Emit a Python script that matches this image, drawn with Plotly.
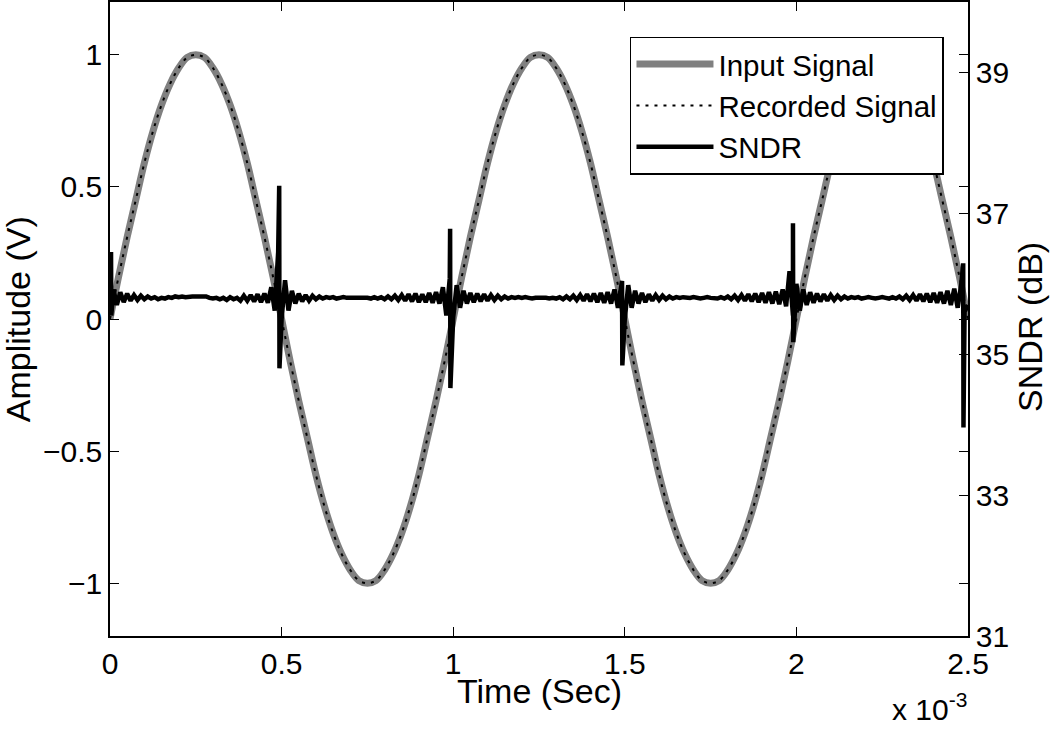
import plotly.graph_objects as go

# ---------------- data ----------------
# Input / recorded signal amplitude (V), sampled every 0.025 ms from 0 to 2.5 ms
sig_time_ms = [round(i * 0.025, 3) for i in range(101)]
input_signal = [
    0.00, 0.16, 0.31, 0.45, 0.59, 0.71, 0.81, 0.89, 0.95, 0.99,
    1.00, 0.99, 0.95, 0.89, 0.81, 0.71, 0.59, 0.45, 0.31, 0.16,
    0.00, -0.16, -0.31, -0.45, -0.59, -0.71, -0.81, -0.89, -0.95, -0.99,
    -1.00, -0.99, -0.95, -0.89, -0.81, -0.71, -0.59, -0.45, -0.31, -0.16,
    0.00, 0.16, 0.31, 0.45, 0.59, 0.71, 0.81, 0.89, 0.95, 0.99,
    1.00, 0.99, 0.95, 0.89, 0.81, 0.71, 0.59, 0.45, 0.31, 0.16,
    0.00, -0.16, -0.31, -0.45, -0.59, -0.71, -0.81, -0.89, -0.95, -0.99,
    -1.00, -0.99, -0.95, -0.89, -0.81, -0.71, -0.59, -0.45, -0.31, -0.16,
    0.00, 0.16, 0.31, 0.45, 0.59, 0.71, 0.81, 0.89, 0.95, 0.99,
    1.00, 0.99, 0.95, 0.89, 0.81, 0.71, 0.59, 0.45, 0.31, 0.16,
    0.00,
]
recorded_signal = list(input_signal)

# SNDR (dB) baseline, sampled every 0.01 ms from 0 to 2.5 ms
sndr_time_ms = [round(i * 0.01, 3) for i in range(251)]
sndr_db = [
    # 0.00 - 0.49
    35.70, 35.92, 35.70, 35.88, 35.74, 35.86, 35.76, 35.84, 35.77, 35.83,
    35.78, 35.82, 35.79, 35.81, 35.78, 35.80, 35.79, 35.81, 35.80, 35.82,
    35.81, 35.82, 35.81, 35.82, 35.82, 35.82, 35.82, 35.81, 35.82, 35.80,
    35.79, 35.80, 35.78, 35.80, 35.77, 35.81, 35.78, 35.80, 35.76, 35.83,
    35.76, 35.84, 35.75, 35.85, 35.74, 35.86, 35.73, 35.95, 35.62, 36.45,
    # 0.50 - 0.99
    35.50, 36.05, 35.62, 35.90, 35.72, 35.86, 35.75, 35.84, 35.76, 35.83,
    35.78, 35.82, 35.79, 35.81, 35.80, 35.81, 35.79, 35.80, 35.81, 35.80,
    35.80, 35.81, 35.80, 35.80, 35.81, 35.80, 35.79, 35.81, 35.79, 35.81,
    35.78, 35.82, 35.78, 35.83, 35.77, 35.84, 35.76, 35.85, 35.75, 35.86,
    35.74, 35.85, 35.74, 35.87, 35.73, 35.88, 35.72, 35.95, 35.55, 36.08,
    # 1.00 - 1.49
    35.52, 35.98, 35.66, 35.90, 35.72, 35.87, 35.74, 35.86, 35.75, 35.85,
    35.76, 35.84, 35.77, 35.83, 35.78, 35.82, 35.79, 35.81, 35.80, 35.81,
    35.80, 35.81, 35.80, 35.79, 35.80, 35.80, 35.81, 35.80, 35.79, 35.80,
    35.79, 35.81, 35.78, 35.82, 35.78, 35.83, 35.77, 35.84, 35.76, 35.85,
    35.75, 35.86, 35.74, 35.87, 35.73, 35.88, 35.72, 35.92, 35.66, 36.02,
    # 1.50 - 1.99
    35.50, 35.98, 35.66, 35.90, 35.72, 35.87, 35.74, 35.85, 35.76, 35.84,
    35.77, 35.83, 35.78, 35.82, 35.79, 35.81, 35.80, 35.81, 35.80, 35.80,
    35.81, 35.80, 35.79, 35.80, 35.81, 35.80, 35.80, 35.79, 35.81, 35.79,
    35.82, 35.78, 35.83, 35.77, 35.84, 35.76, 35.85, 35.75, 35.86, 35.74,
    35.87, 35.73, 35.88, 35.72, 35.89, 35.71, 35.92, 35.68, 36.18, 35.55,
    # 2.00 - 2.49
    36.00, 35.62, 35.92, 35.70, 35.88, 35.73, 35.86, 35.75, 35.85, 35.76,
    35.84, 35.77, 35.83, 35.78, 35.82, 35.79, 35.81, 35.80, 35.81, 35.79,
    35.80, 35.81, 35.80, 35.79, 35.80, 35.81, 35.80, 35.79, 35.81, 35.79,
    35.82, 35.78, 35.83, 35.77, 35.84, 35.76, 35.85, 35.75, 35.86, 35.74,
    35.87, 35.73, 35.88, 35.72, 35.90, 35.70, 35.93, 35.66, 35.98, 35.60,
    # 2.50
    35.70,
]

# Narrow SNDR spikes near the zero crossings (time in ms, peak and trough in dB)
spike_time_ms = [0.003, 0.493, 0.991, 1.492, 1.990, 2.486]
spike_high_db = [36.45, 37.39, 36.78, 36.04, 36.86, 36.29]
spike_low_db = [35.55, 34.80, 34.52, 34.84, 35.17, 33.96]

x_tick_ms = [0, 0.5, 1, 1.5, 2, 2.5]
x_tick_text = ["0", "0.5", "1", "1.5", "2", "2.5"]
amp_ticks = [-1, -0.5, 0, 0.5, 1]
sndr_ticks = [31, 33, 35, 37, 39]

# ---------------- build SNDR series (baseline + spikes) ----------------
pts = list(zip(sndr_time_ms, sndr_db))
for t, hi, lo in zip(spike_time_ms, spike_high_db, spike_low_db):
    pts.append((t, hi))
    pts.append((t + 0.0008, lo))
pts.sort(key=lambda p: p[0])
sndr_x = [p[0] * 1e-3 for p in pts]
sndr_y = [p[1] for p in pts]

sig_x = [t * 1e-3 for t in sig_time_ms]

FONT = "Liberation Sans, Arial, Helvetica, sans-serif"

fig = go.Figure()
fig.add_trace(go.Scatter(
    x=sig_x, y=input_signal, name="Input Signal", mode="lines",
    line=dict(color="rgb(128,128,128)", width=7, shape="spline"),
))
fig.add_trace(go.Scatter(
    x=sig_x, y=recorded_signal, name="Recorded Signal", mode="lines",
    line=dict(color="black", width=2, dash="3px,6px", shape="spline"),
))
fig.add_trace(go.Scatter(
    x=sndr_x, y=sndr_y, name="SNDR", mode="lines", yaxis="y2",
    line=dict(color="black", width=4.5),
))

axis_common = dict(
    showline=True, linecolor="black", linewidth=1.5,
    ticks="inside", ticklen=9, tickwidth=1.2, tickcolor="black",
    showgrid=False, zeroline=False, automargin=False,
    tickfont=dict(family=FONT, size=30, color="black"),
)

title_font = dict(family=FONT, size=34, color="black")

fig.update_layout(
    width=1050, height=730,
    margin=dict(l=110, r=82, t=2, b=94),
    paper_bgcolor="white", plot_bgcolor="white",
    font=dict(family=FONT, color="black"),
    showlegend=True,
    legend=dict(
        x=0.972, y=0.945, xanchor="right", yanchor="top",
        bgcolor="white", bordercolor="black", borderwidth=1.5,
        font=dict(family=FONT, size=29.5, color="black"),
        itemwidth=77, tracegroupgap=0,
    ),
    xaxis=dict(
        range=[0, 2.5e-3], tickvals=[v * 1e-3 for v in x_tick_ms], ticktext=x_tick_text,
        mirror="ticks", **axis_common,
    ),
    yaxis=dict(
        range=[-1.2, 1.2], tickvals=amp_ticks, mirror="ticks", **axis_common,
    ),
    yaxis2=dict(
        range=[31, 40], tickvals=sndr_ticks, overlaying="y", side="right", **axis_common,
    ),
    annotations=[
        dict(text="Time (Sec)", xref="paper", yref="paper", x=0.501, y=-0.087,
             xanchor="center", yanchor="middle", showarrow=False, font=title_font),
        dict(text="Amplitude (V)", xref="paper", yref="paper", x=-0.107, y=0.5,
             xanchor="center", yanchor="middle", showarrow=False, textangle=-90,
             font=title_font),
        dict(text="SNDR (dB)", xref="paper", yref="paper", x=1.073, y=0.487,
             xanchor="center", yanchor="middle", showarrow=False, textangle=-90,
             font=title_font),
        dict(text="x 10<sup>-3</sup>", xref="paper", yref="paper",
             x=0.955, y=-0.112, xanchor="center", yanchor="middle", showarrow=False,
             font=dict(family=FONT, size=30, color="black")),
    ],
)

fig.write_html("out.html", config={"displayModeBar": False},
               post_script="document.body.style.margin='0';")
